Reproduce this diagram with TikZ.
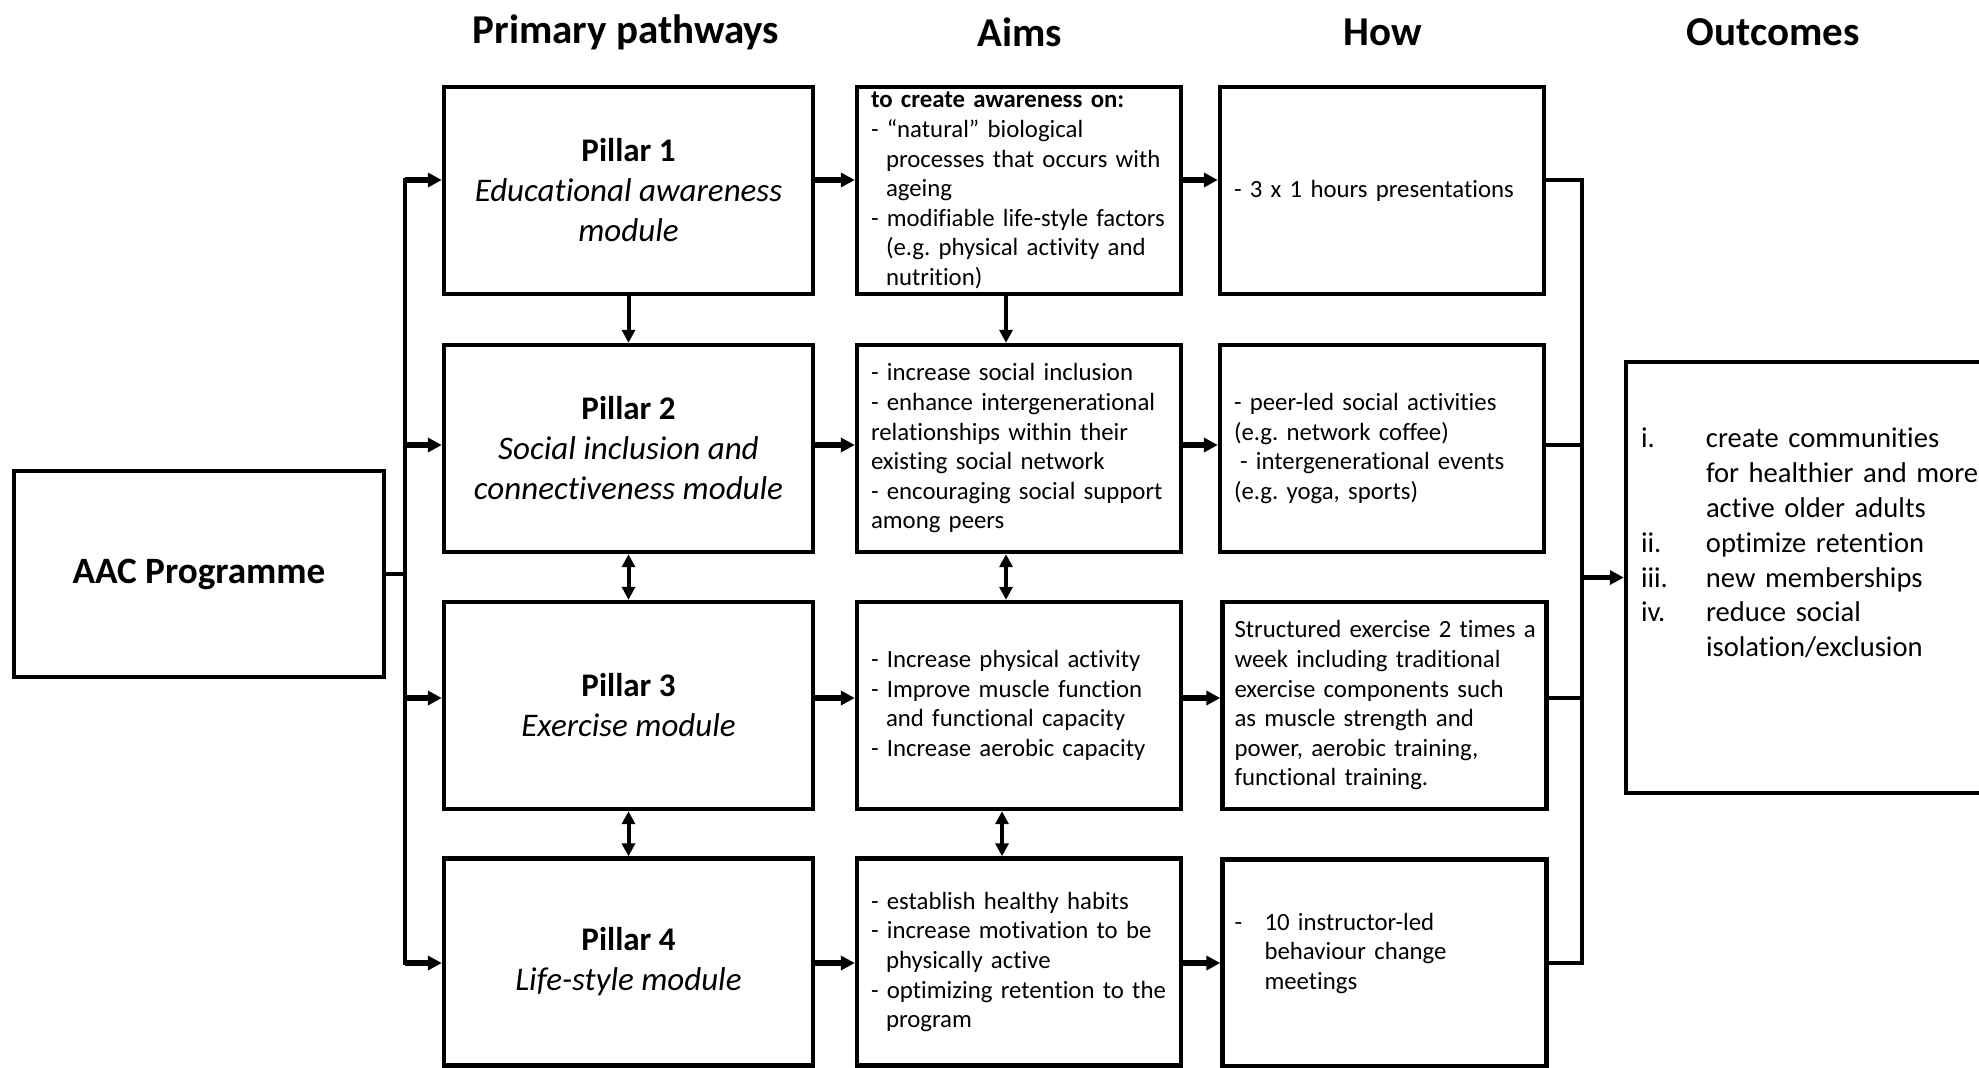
\documentclass[tikz,border=0pt]{standalone}
\usepackage{fontspec}
\setmainfont{Carlito}[Ligatures=NoCommon]
\usetikzlibrary{arrows.meta}
\tikzset{
  hdr/.style={font=\fontsize{20.5}{24}\selectfont\bfseries},
  box/.style={draw, line width=2.2pt, inner ysep=0pt},
  pillar/.style={box, minimum width=184.5pt, minimum height=103.5pt, align=center, font=\fontsize{16.5}{20}\selectfont},
  textbox/.style={box, minimum width=162pt, minimum height=103.5pt, inner xsep=7pt, text width=148pt, align=left, font=\frenchspacing\fontsize{12.4}{14.8}\selectfont},
  bus/.style={line width=2.2pt, line cap=rect},
  arr/.style={line width=2.6pt, -{Triangle[length=7pt,width=7pt]}},
  varr/.style={line width=2pt, -{Triangle[length=6.5pt,width=6.5pt]}},
  varrboth/.style={varr, {Triangle[length=6.5pt,width=6.5pt]}-{Triangle[length=6.5pt,width=6.5pt]}},
}
\newcommand{\ind}{\hspace*{7.5pt}}
\newcommand{\rnum}[1]{\makebox[32.5pt][l]{#1}}
\newcommand{\rind}{\hspace*{32.5pt}}

\begin{document}
\begin{tikzpicture}[x=0.5pt,y=-0.5pt]
\useasboundingbox (0,0) rectangle (1979,1067);
\clip (0,0) rectangle (1979,1067);
\node[hdr](hpath) at (626,32){Primary pathways};
\node[hdr](haims) at (1020,32){Aims};
\node[hdr](hhow) at (1383,32){How};
\node[hdr](hout) at (1773,32){Outcomes};

\node[box,minimum width=185pt,minimum height=103pt,font=\fontsize{18.6}{22}\selectfont\bfseries](aac) at (199,574){AAC Programme};

\node[pillar](p1) at (628.5,190.5){\textbf{Pillar 1}\\\textit{Educational awareness}\\\textit{module}};
\node[pillar](p2) at (628.5,448.5){\textbf{Pillar 2}\\\textit{Social inclusion and}\\\textit{connectiveness module}};
\node[pillar](p3) at (628.5,705.5){\textbf{Pillar 3}\\\textit{Exercise module}};
\node[pillar](p4) at (628.5,962){\textbf{Pillar 4}\\\textit{Life-style module}};

\node[textbox](a1) at (1019,190.5){\textbf{to create awareness on:}\\- “natural” biological\\\ind processes that occurs with\\\ind ageing\\\mbox{- modifiable life-style factors}\\\ind (e.g. physical activity and\\\ind nutrition)};
\node[textbox](a2) at (1019,448.5){- increase social inclusion\\- enhance intergenerational\\relationships within their\\existing social network\\- encouraging social support\\among peers};
\node[textbox](a3) at (1019,705.5){- Increase physical activity\\- Improve muscle function\\\ind and functional capacity\\- Increase aerobic capacity};
\node[textbox](a4) at (1019,962){- establish healthy habits\\- increase motivation to be\\\ind physically active\\- optimizing retention to the\\\ind program};

\node[textbox](h1) at (1382,190.5){- 3 x 1 hours presentations};
\node[textbox](h2) at (1382,448.5){- peer-led social activities\\(e.g. network coffee)\\\hspace*{3pt}- intergenerational events\\(e.g. yoga, sports)};
\node[textbox,inner xsep=6pt,text width=150pt](h3) at (1384.5,705.5){\mbox{Structured exercise 2 times a}\\week including traditional\\exercise components such\\as muscle strength and\\power, aerobic training,\\functional training.};
\node[textbox,inner xsep=6pt,text width=150pt](h4) at (1384.5,963){\makebox[15pt][l]{-}10 instructor-led\\\hspace*{15pt}behaviour change\\\hspace*{15pt}meetings\par\vspace*{-2.8pt}\mbox{}};

\node[box,minimum width=187pt,minimum height=215.5pt,inner xsep=7.5pt,text width=172pt,align=left,font=\fontsize{14.3}{17.4}\selectfont](out) at (1813,577.5){\rnum{i.}create communities\\\rind for healthier and more\\\rind active older adults\\\rnum{ii.}optimize retention\\\rnum{iii.}new memberships\\\rnum{iv.}reduce social\\\rind isolation/exclusion\par\vspace*{17.6pt}\mbox{}};

\coordinate (r1) at (0,180);
\coordinate (r2) at (0,445);
\coordinate (r3) at (0,698);
\coordinate (r4) at (0,963);
\coordinate (lbus) at (405,0);
\coordinate (rbus) at (1582,0);

\draw[bus] (aac.east) -- (aac.east -| lbus);
\draw[bus] (lbus |- r1) -- (lbus |- r4);
\draw[bus] (rbus |- r1) -- (rbus |- r4);
\foreach \i in {1,...,4}{
  \draw[arr] (lbus |- r\i) -- (p\i.west |- r\i);
  \draw[arr] (p\i.east |- r\i) -- (a\i.west |- r\i);
  \draw[arr] (a\i.east |- r\i) -- (h\i.west |- r\i);
  \draw[bus] (h\i.east |- r\i) -- (rbus |- r\i);
}
\draw[arr] (rbus |- out.west) -- (out.west);

\draw[varr] (p1.south) -- (p2.north);
\draw[varrboth] (p2.south) -- (p3.north);
\draw[varrboth] (p3.south) -- (p4.north);
\draw[varr] ([xshift=-6.5pt]a1.south) -- ([xshift=-6.5pt]a2.north);
\draw[varrboth] ([xshift=-6.5pt]a2.south) -- ([xshift=-6.5pt]a3.north);
\draw[varrboth] ([xshift=-8.5pt]a3.south) -- ([xshift=-8.5pt]a4.north);
\end{tikzpicture}
\end{document}
